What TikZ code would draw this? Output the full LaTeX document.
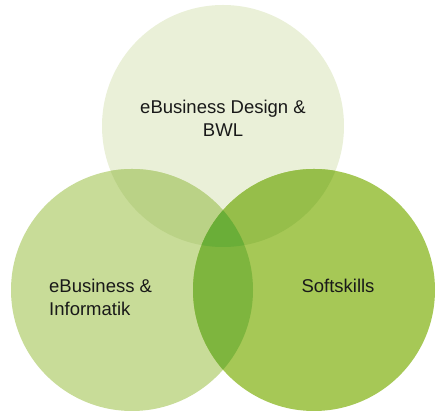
\documentclass[tikz,border=0pt]{standalone}
\usepackage{fontspec}
\setmainfont{Liberation Sans}
\definecolor{designgreen}{HTML}{EAF0D8}
\definecolor{infgreen}{HTML}{C8DC98}
\definecolor{softgreen}{HTML}{A6C856}
\definecolor{designinf}{HTML}{BAD286}
\definecolor{designsoft}{HTML}{96BE4A}
\definecolor{infsoft}{HTML}{7EB53E}
\definecolor{allgreen}{HTML}{6AAE38}
\begin{document}
\begin{tikzpicture}[x=1pt,y=1pt]
\tikzstyle{every node}=[font=\fontsize{18.5}{23}\selectfont,text=black!90,inner sep=0pt];
\useasboundingbox (0,0) rectangle (437,414);
\fill[designgreen] (223,288) circle (121);
\fill[infgreen] (132,124) circle (121);
\fill[softgreen] (314,124) circle (121);
\begin{scope}
	\clip (223,288) circle (121);
	\fill[designinf] (132,124) circle (121);
	\fill[designsoft] (314,124) circle (121);
\end{scope}
\begin{scope}
	\clip (132,124) circle (121);
	\fill[infsoft] (314,124) circle (121);
	\clip (314,124) circle (121);
	\fill[allgreen] (223,288) circle (121);
\end{scope}
\node[align=center] (design) at (223,296) {eBusiness Design \&\\BWL};
\node[align=left,anchor=west] (inf) at (49,117) {eBusiness \&\\Informatik};
\node (soft) at (338,128) {Softskills};
\end{tikzpicture}
\end{document}
